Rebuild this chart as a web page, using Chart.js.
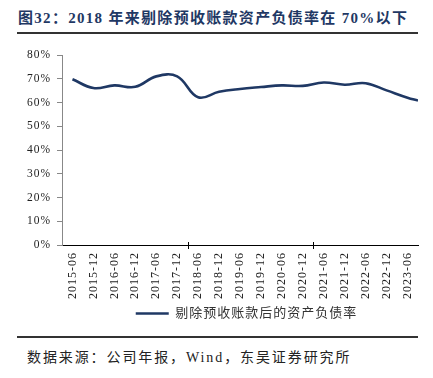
<!DOCTYPE html>
<html>
<head>
<meta charset="utf-8">
<script src="https://cdn.jsdelivr.net/npm/chart.js@4.4.1/dist/chart.umd.min.js"></script>
<style>
    html, body { margin: 0; padding: 0; background: #fff; }
    #page { position: relative; width: 433px; height: 378px; overflow: hidden; }
    .title {
        position: absolute; left: 18px; top: 6px;
        font: bold 15px "Liberation Serif", "Noto Sans CJK SC", serif;
        letter-spacing: 1.3px; color: #1f3864; white-space: nowrap;
    }
    .rule { position: absolute; left: 17px; width: 401px; height: 2px; background: #333; }
    .source {
        position: absolute; left: 27px; top: 346px;
        font: 14px "Liberation Serif", "Noto Sans CJK SC", serif;
        letter-spacing: 1.9px; color: #222; white-space: nowrap;
    }
    #chartBox { position: absolute; left: 0; top: 40px; width: 433px; height: 292px; }
</style>
</head>
<body>
<div id="page">
    <div class="title">图32：2018 年来剔除预收账款资产负债率在 70%以下</div>
    <div class="rule" style="top: 32px;"></div>
    <div id="chartBox"><canvas id="debtChart"></canvas></div>
    <div class="rule" style="top: 336px;"></div>
    <div class="source">数据来源：公司年报，Wind，东吴证券研究所</div>
</div>
<script>
// axis labels (half-year)
const periodLabels = ['2015-06', '2015-12', '2016-06', '2016-12', '2017-06', '2017-12',
    '2018-06', '2018-12', '2019-06', '2019-12', '2020-06', '2020-12',
    '2021-06', '2021-12', '2022-06', '2022-12', '2023-06'];
// data points (last one is 2023-09, runs to the axis end)
const pointDates = ['2015-06', '2015-12', '2016-06', '2016-12', '2017-06', '2017-12',
    '2018-06', '2018-12', '2019-06', '2019-12', '2020-06', '2020-12',
    '2021-06', '2021-12', '2022-06', '2022-12', '2023-06', '2023-09'];
const debtRatio = [69.8, 66.1, 67.2, 66.6, 71.0, 71.0,
    62.2, 64.5, 65.7, 66.5, 67.2, 67.0,
    68.4, 67.5, 68.1, 65.1, 62.0, 60.8];
const yTicks = [0, 10, 20, 30, 40, 50, 60, 70, 80];
const seriesName = '剔除预收账款后的资产负债率';

// half-year index from a yyyy-mm date
function periodIndex(d) {
    const [y, m] = d.split('-').map(Number);
    return ((y - 2015) * 12 + (m - 6)) / 6;
}

const points = pointDates.map((d, i) => ({ x: periodIndex(d), y: debtRatio[i] }));

const spacingPlugin = {
    id: 'spacing',
    beforeDraw(chart) {
        chart.ctx.letterSpacing = '1px';
    },
    afterDraw(chart) {
        const ctx = chart.ctx;
        const xs = chart.scales.x;
        ctx.save();
        ctx.strokeStyle = '#000';
        ctx.lineWidth = 1;
        [5.5, 11.5].forEach(v => {
            const px = Math.round(xs.getPixelForValue(v)) + 0.5;
            ctx.beginPath();
            ctx.moveTo(px, xs.top - 3);
            ctx.lineTo(px, xs.top + 4);
            ctx.stroke();
        });
        ctx.restore();
    }
};

new Chart(document.getElementById('debtChart'), {
    type: 'line',
    data: {
        datasets: [{
            label: seriesName,
            data: points,
            borderColor: '#1f3864',
            backgroundColor: '#1f3864',
            borderWidth: 2.6,
            pointRadius: 0,
            tension: 0.4,
            fill: false
        }]
    },
    options: {
        responsive: true,
        maintainAspectRatio: false,
        animation: false,
        layout: { padding: { top: 15, right: 15, bottom: 2, left: 0 } },
        plugins: {
            tooltip: { enabled: false },
            legend: {
                position: 'bottom',
                fullSize: false,
                labels: {
                    usePointStyle: true,
                    pointStyle: 'line',
                    pointStyleWidth: 33,
                    color: '#333',
                    padding: 6,
                    font: { family: '"Liberation Serif", "Noto Sans CJK SC", serif', size: 13 }
                }
            }
        },
        scales: {
            x: {
                type: 'linear',
                min: -0.5,
                max: 16.5,
                afterBuildTicks(scale) {
                    scale.ticks = periodLabels.map((_, i) => ({ value: i }));
                },
                afterFit(scale) { scale.height = 56; },
                grid: { display: false, drawTicks: false },
                border: { display: true, color: '#000', width: 1 },
                ticks: {
                    autoSkip: false,
                    minRotation: 90,
                    maxRotation: 90,
                    padding: 7,
                    color: '#222',
                    font: { family: '"Liberation Serif", serif', size: 12 },
                    callback: (v) => periodLabels[v] || ''
                }
            },
            y: {
                min: 0,
                max: 80,
                afterBuildTicks(scale) {
                    scale.ticks = yTicks.map(v => ({ value: v }));
                },
                afterFit(scale) { scale.width = 62; },
                grid: { drawOnChartArea: false, tickLength: 5, color: '#888' },
                border: { display: true, color: '#888', width: 1 },
                ticks: {
                    padding: 6,
                    color: '#222',
                    font: { family: '"Liberation Serif", serif', size: 11.5 },
                    callback: (v) => v + '%'
                }
            }
        }
    },
    plugins: [spacingPlugin]
});
</script>
</body>
</html>
